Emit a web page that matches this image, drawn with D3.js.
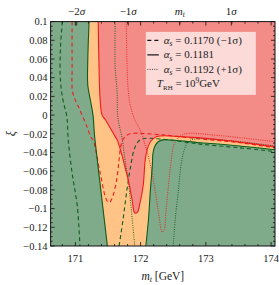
<!DOCTYPE html>
<html>
<head>
<meta charset="utf-8">
<script src="https://cdn.jsdelivr.net/npm/d3@7"></script>
<style>
  body { margin: 0; background: #fff; }
  text { font-family: "Liberation Serif", serif; fill: #222; }
</style>
</head>
<body>
<svg id="chart" width="279" height="285"></svg>
<script>
// axis ranges and ticks
const mtRange = [170.62, 174.06];
const xiRange = [-0.14, 0.1];
const mtTicks = [171, 172, 173, 174];
const xiTicks = [0.1, 0.08, 0.06, 0.04, 0.02, 0, -0.02, -0.04, -0.06, -0.08, -0.1, -0.12, -0.14];
const mtCentral = 172.6, mtSigma = 0.79;
const sigmaLabels = ['−2σ', '−1σ', 'm_t', '1σ'];
const sigmaSteps = [-2, -1, 0, 1];

// alpha_s = 0.1181 (solid)
const greenSolidLeft = [[171.21, 0.1], [171.19, 0.059], [171.19, 0.032], [171.23, 0.016], [171.27, 0.0],
  [171.29, -0.019], [171.30, -0.0265], [171.42, -0.098], [171.49, -0.14]];
const redSolid = [[171.35, 0.1], [171.36, 0.059], [171.38, 0.016], [171.41, 0.0], [171.46, -0.005],
  [171.61, -0.023], [171.64, -0.0265], [171.69, -0.037], [171.76, -0.0555], [171.81, -0.0694],
  [171.87, -0.0908], [171.91, -0.1047], [171.95, -0.104], [171.99, -0.094], [172.04, -0.075],
  [172.07, -0.048], [172.10, -0.037], [172.15, -0.0285], [172.25, -0.023], [172.61, -0.023],
  [173.22, -0.0265], [174.06, -0.034]];
const greenSolidRight = [[172.08, -0.14], [172.12, -0.112], [172.15, -0.08], [172.18, -0.0535],
  [172.19, -0.0405], [172.22, -0.033], [172.27, -0.0285], [172.34, -0.0265], [172.91, -0.0295],
  [173.52, -0.033], [174.06, -0.037]];

// alpha_s = 0.1170 (dashed)
const greenDashLeft = [[170.80, 0.1], [170.77, 0.07], [170.77, 0.0376], [170.81, 0.016], [170.87, -0.002],
  [170.89, -0.0265], [170.95, -0.062], [171.03, -0.098], [171.07, -0.14]];
const greenDashRight = [[171.67, -0.14], [171.73, -0.112], [171.79, -0.08], [171.85, -0.0535],
  [171.90, -0.037], [171.95, -0.0295], [172.02, -0.0255], [172.30, -0.0255], [172.91, -0.031],
  [173.52, -0.035], [174.06, -0.039]];
const redDash = [[170.95, 0.1], [170.95, 0.0515], [170.96, 0.024], [171.07, 0.0055], [171.18, -0.013],
  [171.24, -0.024], [171.27, -0.0265], [171.38, -0.062], [171.46, -0.0877], [171.50, -0.093],
  [171.53, -0.093], [171.58, -0.0855], [171.64, -0.066], [171.67, -0.048], [171.70, -0.032],
  [171.75, -0.024], [171.84, -0.02], [172.30, -0.021], [172.91, -0.0255], [173.52, -0.0295],
  [174.06, -0.035]];

// alpha_s = 0.1192 (dotted)
const greenDotLeft = [[171.61, 0.1], [171.61, 0.0515], [171.64, 0.024], [171.65, -0.002], [171.72, -0.0265],
  [171.76, -0.048], [171.81, -0.0694], [171.85, -0.096], [171.88, -0.1175], [171.91, -0.14]];
const greenDotRight = [[172.50, -0.14], [172.53, -0.112], [172.58, -0.08], [172.62, -0.0535],
  [172.67, -0.037], [172.73, -0.0285], [172.84, -0.0255], [173.38, -0.0275], [174.06, -0.033]];
const redDot = [[171.78, 0.1], [171.79, 0.059], [171.81, 0.027], [171.84, 0.011], [171.91, -0.005],
  [171.99, -0.0155], [172.07, -0.032], [172.15, -0.0535], [172.22, -0.08], [172.28, -0.1068],
  [172.33, -0.125], [172.36, -0.123], [172.39, -0.1015], [172.42, -0.08], [172.47, -0.048],
  [172.51, -0.032], [172.58, -0.024], [172.68, -0.02], [173.22, -0.022], [174.06, -0.0285]];

const legendRows = [
  { dash: '4,3', text: ['α', 's', ' = 0.1170 (−1σ)'] },
  { dash: null, text: ['α', 's', ' = 0.1181'] },
  { dash: '1,1.3', text: ['α', 's', ' = 0.1192 (+1σ)'] }
];

const colGreen = '#80ab8b', colOrange = '#fec385', colRed = '#f38b86';
const lineGreen = '#0b5e1c', lineRed = '#ee1b1b';

const margin = { left: 50.6, top: 21.6, right: 4, bottom: 39 };
const W = 279, H = 285;
const w = W - margin.left - margin.right, h = H - margin.top - margin.bottom;

const svg = d3.select('#chart');
const g = svg.append('g').attr('transform', `translate(${margin.left},${margin.top})`);

const x = d3.scaleLinear().domain(mtRange).range([0, w]);
const y = d3.scaleLinear().domain(xiRange).range([h, 0]);

g.append('clipPath').attr('id', 'plotclip')
  .append('rect').attr('width', w).attr('height', h);

const plot = g.append('g').attr('clip-path', 'url(#plotclip)');
const line = d3.line().x(d => x(d[0])).y(d => y(d[1])).curve(d3.curveCatmullRom.alpha(0.5));
const poly = d3.line().x(d => x(d[0])).y(d => y(d[1])).curve(d3.curveLinearClosed);

// regions
plot.append('rect').attr('width', w).attr('height', h).attr('fill', colRed);

// densify curves so polygon edges follow the smooth lines
function smooth(pts) {
  const p = document.createElementNS('http://www.w3.org/2000/svg', 'path');
  p.setAttribute('d', line(pts));
  const len = p.getTotalLength(), out = [];
  for (let i = 0; i <= 200; i++) {
    const q = p.getPointAtLength(len * i / 200);
    out.push([x.invert(q.x), y.invert(q.y)]);
  }
  return out;
}
const gL = smooth(greenSolidLeft), gR = smooth(greenSolidRight), rS = smooth(redSolid);

plot.append('path')
  .attr('d', poly(gL.concat(gR, rS.slice().reverse())))
  .attr('fill', colOrange);
plot.append('path')
  .attr('d', poly([[mtRange[0], xiRange[1]]].concat(gL, [[mtRange[0], xiRange[0]]])))
  .attr('fill', colGreen);
plot.append('path')
  .attr('d', poly(gR.concat([[mtRange[1], xiRange[0]]])))
  .attr('fill', colGreen);

// curves
const curves = [
  [greenDashLeft, lineGreen, '4,3'], [greenDashRight, lineGreen, '4,3'], [redDash, lineRed, '4,3'],
  [greenDotLeft, lineGreen, '1,1.3'], [greenDotRight, lineGreen, '1,1.3'], [redDot, lineRed, '1,1.3'],
  [greenSolidLeft, lineGreen, null], [greenSolidRight, lineGreen, null], [redSolid, lineRed, null]
];
curves.forEach(([pts, col, dash]) => {
  plot.append('path')
    .attr('d', line(pts))
    .attr('fill', 'none')
    .attr('stroke', col)
    .attr('stroke-width', dash === '1,1.3' ? 0.9 : 1.1)
    .attr('stroke-dasharray', dash);
});

// legend
const lg = g.append('g').attr('transform', `translate(${x(172.08)},${y(0.089)})`);
lg.append('rect').attr('width', 110).attr('height', 63).attr('fill', '#fff').attr('fill-opacity', 0.68);
legendRows.forEach((r, i) => {
  const yy = 8.5 + i * 14.5;
  lg.append('line').attr('x1', 1.5).attr('x2', 13).attr('y1', yy).attr('y2', yy)
    .attr('stroke', '#111').attr('stroke-width', r.dash === '1,1.3' ? 0.8 : 1.2)
    .attr('stroke-dasharray', r.dash);
  const t = lg.append('text').attr('x', 18).attr('y', yy + 3.6).style('font-size', '11px');
  t.append('tspan').style('font-style', 'italic').text(r.text[0]);
  t.append('tspan').attr('dy', 2.5).style('font-size', '7.5px').style('font-style', 'italic').text(r.text[1]);
  t.append('tspan').attr('dy', -2.5).text(r.text[2]);
});
const tr = lg.append('text').attr('x', 11).attr('y', 8.5 + 3 * 14.5 + 3.6).style('font-size', '11px');
tr.append('tspan').style('font-style', 'italic').text('T');
tr.append('tspan').attr('dy', 2.5).style('font-size', '7px').text('RH');
tr.append('tspan').attr('dy', -2.5).text(' = 10');
tr.append('tspan').attr('dy', -4).style('font-size', '7.5px').text('9');
tr.append('tspan').attr('dy', 4).text('GeV');

// frame and ticks
g.append('rect').attr('width', w).attr('height', h)
  .attr('fill', 'none').attr('stroke', '#111').attr('stroke-width', 1);

const minorX = d3.range(170.8, 174.05, 0.2);
const minorY = d3.range(-0.14, 0.1001, 0.005);
const ticks = g.append('g').attr('stroke', '#111').attr('stroke-width', 0.8);
minorX.forEach(v => {
  const major = mtTicks.some(t => Math.abs(t - v) < 1e-6);
  const len = major ? 4 : 2;
  ticks.append('line').attr('x1', x(v)).attr('x2', x(v)).attr('y1', h).attr('y2', h - len);
  ticks.append('line').attr('x1', x(v)).attr('x2', x(v)).attr('y1', 0).attr('y2', len);
});
minorY.forEach(v => {
  const major = xiTicks.some(t => Math.abs(t - v) < 1e-6);
  const len = major ? 4 : 2;
  ticks.append('line').attr('y1', y(v)).attr('y2', y(v)).attr('x1', 0).attr('x2', len);
  ticks.append('line').attr('y1', y(v)).attr('y2', y(v)).attr('x1', w).attr('x2', w - len);
});
sigmaSteps.forEach(k => {
  const v = mtCentral + k * mtSigma;
  ticks.append('line').attr('x1', x(v)).attr('x2', x(v)).attr('y1', 0).attr('y2', 4);
});

// tick labels
const fmt = v => v === 0 ? '0' : (v < 0 ? '−' : '') + String(+Math.abs(v).toFixed(2)).replace(/^0\./, '0.');
xiTicks.forEach(v => {
  g.append('text').attr('x', -3).attr('y', y(v) + 3.8).attr('text-anchor', 'end')
    .style('font-size', '10.5px').text(fmt(v));
});
mtTicks.forEach(v => {
  g.append('text').attr('x', x(v)).attr('y', h + 16).attr('text-anchor', 'middle')
    .style('font-size', '10.5px').text(v);
});
sigmaSteps.forEach((k, i) => {
  const t = g.append('text').attr('x', x(mtCentral + k * mtSigma)).attr('y', -7)
    .attr('text-anchor', 'middle').style('font-size', '11px');
  if (sigmaLabels[i] === 'm_t') {
    t.append('tspan').style('font-style', 'italic').text('m');
    t.append('tspan').attr('dy', 2).style('font-size', '7.5px').style('font-style', 'italic').text('t');
  } else {
    t.append('tspan').text(sigmaLabels[i].replace('σ', ''));
    t.append('tspan').style('font-style', 'italic').text('σ');
  }
});

// axis titles
const xt = g.append('text').attr('x', w / 2).attr('y', h + 34).attr('text-anchor', 'middle')
  .style('font-size', '11.5px');
xt.append('tspan').style('font-style', 'italic').text('m');
xt.append('tspan').attr('dy', 2.5).style('font-size', '8px').style('font-style', 'italic').text('t');
xt.append('tspan').attr('dy', -2.5).text(' [GeV]');

g.append('text').attr('transform', `translate(${-39},${y(-0.02)}) rotate(-90)`)
  .attr('text-anchor', 'middle').attr('dy', '0.3em')
  .style('font-size', '12px').style('font-style', 'italic').text('ξ');
</script>
</body>
</html>
